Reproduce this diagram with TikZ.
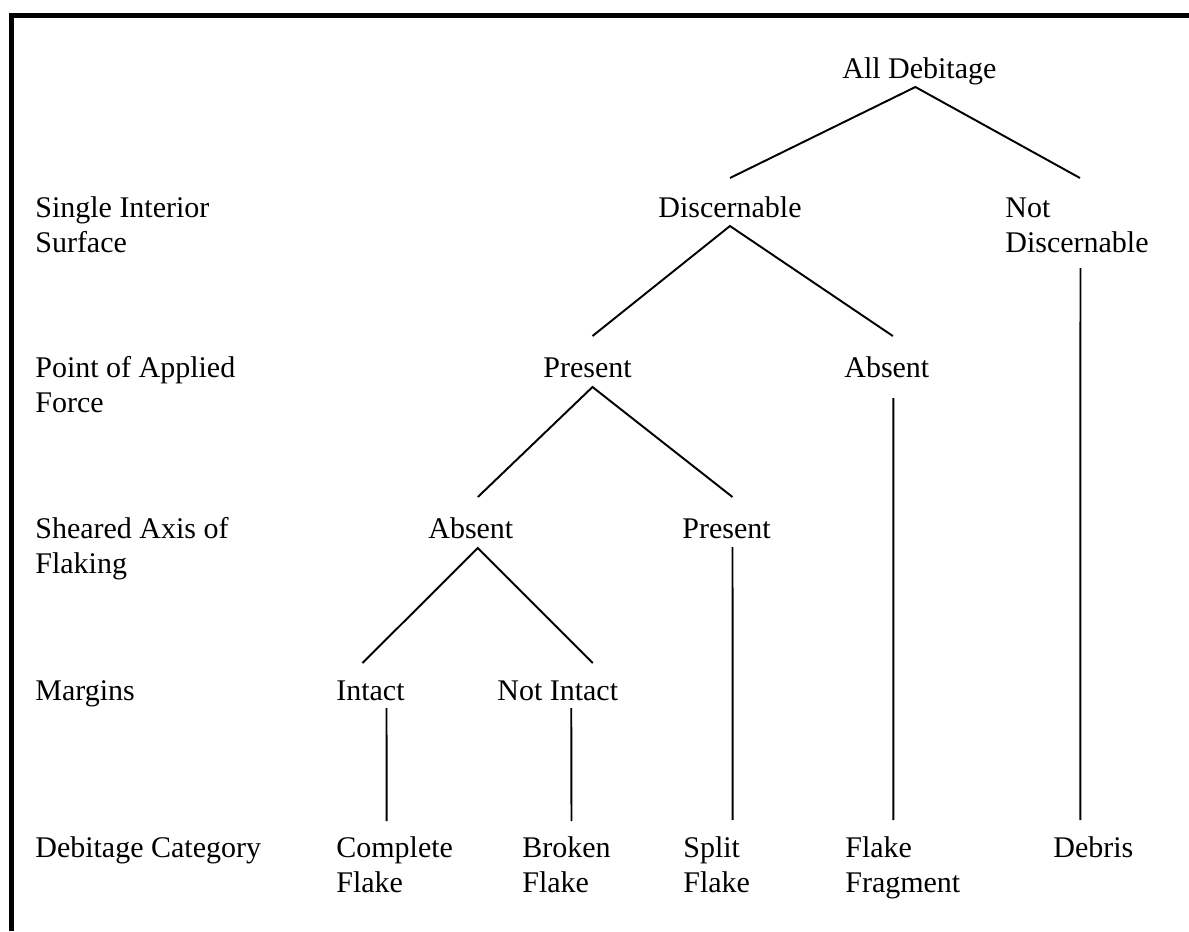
\documentclass[tikz,border=0pt]{standalone}
\usepackage{fontspec}
\setmainfont{Liberation Serif}
\usepackage{tikz}
\usetikzlibrary{calc}
\tikzset{
  lbl/.style={anchor=base west, inner sep=0pt, align=left,
    font=\fontsize{17.07}{19.92}\selectfont},
  branch/.style={line width=1.1pt, color=black},
  frame/.style={line width=3pt, color=black, line join=miter}
}

\begin{document}
\begin{tikzpicture}[x=0.02cm, y=-0.02cm]
  \useasboundingbox (0,0) rectangle (1189,931);
  % Frame
  \draw[frame] (11.5,931) -- (11.5,15.5) -- (1189,15.5);

  % Level labels (two-line nodes sit on their last line)
  \node[lbl] (lvsurf) at (35,252) {Single Interior\\Surface};
  \node[lbl] (lvforce) at (35,412) {Point of Applied\\Force};
  \node[lbl] (lvaxis) at (35,573) {Sheared Axis of\\Flaking};
  \node[lbl] (lvmarg) at (35,700) {Margins};
  \node[lbl] (lvcat) at (35,857) {Debitage Category};

  % Tree nodes
  \node[lbl] (alldeb) at (842,78) {All Debitage};
  \node[lbl] (disc) at (658,217) {Discernable};
  \node[lbl] (notdisc) at (1005,252) {Not\\Discernable};
  \node[lbl] (pafpres) at (543,377) {Present};
  \node[lbl] (pafabs) at (844,377) {Absent};
  \node[lbl] (saxabs) at (428,538) {Absent};
  \node[lbl] (saxpres) at (682,538) {Present};
  \node[lbl] (intact) at (336,700) {Intact};
  \node[lbl] (notintact) at (497,700) {Not Intact};
  \node[lbl] (complete) at (336,892) {Complete\\Flake};
  \node[lbl] (broken) at (522,892) {Broken\\Flake};
  \node[lbl] (split) at (683,892) {Split\\Flake};
  \node[lbl] (fragment) at (845,892) {Flake\\Fragment};
  \node[lbl] (debris) at (1053,857) {Debris};

  % Branches
  \draw[branch] ($(disc.base)+(0,-39)$) -- ($(alldeb.base)+(-4,9)$) -- ($(notdisc.base)+(3,-74)$);
  \draw[branch] ($(pafpres.base)+(5,-41)$) -- ($(disc.base)+(0,9)$) -- ($(pafabs.base)+(6,-41)$);
  \draw[branch] ($(saxabs.base)+(7,-41)$) -- ($(pafpres.base)+(5,10)$) -- ($(saxpres.base)+(6,-41)$);
  \draw[branch] ($(intact.base)+(-8,-37)$) -- ($(saxabs.base)+(7,10)$) -- ($(notintact.base)+(35,-37)$);

  % Links to categories
  \draw[branch] ($(intact.base)+(16,8)$) -- ($(complete.base)+(-8,-71)$);
  \draw[branch] ($(notintact.base)+(13.5,8)$) -- ($(broken.base)+(5,-71)$);
  \draw[branch] ($(saxpres.base)+(6,9)$) -- ($(split.base)+(16,-72)$);
  \draw[branch] ($(pafabs.base)+(6.5,21)$) -- ($(fragment.base)+(-9.5,-72)$);
  \draw[branch] ($(notdisc.base)+(3.5,16)$) -- ($(debris.base)+(-13,-37)$);
\end{tikzpicture}
\end{document}
